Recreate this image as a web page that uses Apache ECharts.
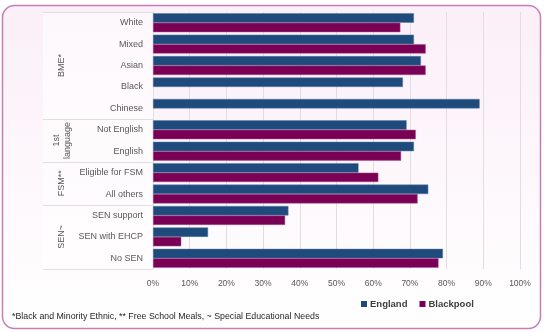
<!DOCTYPE html>
<html>
<head>
<meta charset="utf-8">
<script src="https://cdn.jsdelivr.net/npm/echarts@6/dist/echarts.min.js"></script>
<style>
  html, body { margin: 0; padding: 0; background: #ffffff; }
  #chart { width: 544px; height: 332px; }
</style>
</head>
<body>
<div id="chart"></div>
<script>
// Pupil groups (top to bottom)
var categories = ['White', 'Mixed', 'Asian', 'Black', 'Chinese',
  'Not English', 'English',
  'Eligible for FSM', 'All others',
  'SEN support', 'SEN with EHCP', 'No SEN'];

// Group headings and how many rows each spans
var groupNames = ['BME*', '1st\nlanguage', 'FSM**', 'SEN~'];
var groupSizes = [5, 2, 2, 3];

// Percentages
var englandValues   = [71.1, 71.1, 73.0, 68.1, 89.0, 69.1, 71.1, 56.0, 75.0, 36.9, 15.0, 79.0];
var blackpoolValues = [67.4, 74.3, 74.3, null, null, 71.6, 67.6, 61.4, 72.1, 36.0, 7.7, 77.8];

var xTicks = { min: 0, max: 100, interval: 10 };
var footnote = '*Black and Minority Ethnic, ** Free School Meals, ~ Special Educational Needs';

var FONT = '"Liberation Sans", Arial, sans-serif';
var chart = echarts.init(document.getElementById('chart'), null, { renderer: 'canvas' });

var baseGraphics = [
  {
    type: 'rect', z: -10, silent: true,
    shape: { x: 2.5, y: 5.5, width: 538, height: 323, r: 12 },
    style: {
      fill: new echarts.graphic.LinearGradient(0, 0, 0, 1, [
        { offset: 0, color: '#fbeff8' },
        { offset: 1, color: '#ffffff' }
      ]),
      stroke: '#c57dba', lineWidth: 1.5
    }
  },
  {
    type: 'text', left: 12, top: 312, silent: true,
    style: { text: footnote, fill: '#262626', font: '8.8px ' + FONT }
  }
];

chart.setOption({
  animation: false,
  backgroundColor: '#ffffff',
  textStyle: { fontFamily: FONT },
  grid: { left: 153, right: 24, top: 12, bottom: 63, containLabel: false },
  legend: {
    data: ['England', 'Blackpool'],
    left: 356, top: 294,
    icon: 'rect', itemWidth: 6, itemHeight: 6, itemGap: 12,
    itemStyle: { borderWidth: 0 },
    textStyle: { color: '#404040', fontWeight: 'bold', fontSize: 9.5, fontFamily: FONT, padding: [0, 0, 0, -2] }
  },
  xAxis: {
    type: 'value', min: xTicks.min, max: xTicks.max, interval: xTicks.interval,
    axisLine: { show: false }, axisTick: { show: false },
    splitLine: { show: true, lineStyle: { color: '#e3dde1', width: 1 } },
    axisLabel: { formatter: '{value}%', color: '#595959', fontSize: 8.5, margin: 10, fontFamily: FONT }
  },
  yAxis: {
    type: 'category', data: categories, inverse: true,
    axisLine: { show: true, lineStyle: { color: '#e3dde1' } },
    axisTick: { show: false },
    axisLabel: { color: '#595959', fontSize: 9, margin: 10, fontFamily: FONT }
  },
  series: [
    {
      name: 'England', type: 'bar', data: englandValues,
      barGap: '0%', barCategoryGap: '12%',
      itemStyle: { color: '#1f4a7c', borderColor: '#5a7aa3', borderWidth: 0.5 }
    },
    {
      name: 'Blackpool', type: 'bar', data: blackpoolValues,
      itemStyle: { color: '#7a0056', borderColor: '#a8558e', borderWidth: 0.5 }
    }
  ],
  graphic: baseGraphics
});

// Multi-level category labels: separators and rotated group headings
(function () {
  var c0 = chart.convertToPixel({ yAxisIndex: 0 }, categories[0]);
  var c1 = chart.convertToPixel({ yAxisIndex: 0 }, categories[1]);
  var band = c1 - c0;
  var top = c0 - band / 2;
  var axisX = chart.convertToPixel({ xAxisIndex: 0 }, xTicks.min);
  var lineLeft = 43;
  var els = baseGraphics.slice();
  els.push({
    type: 'rect', z: -5, silent: true,
    shape: { x: lineLeft, y: top, width: axisX - lineLeft, height: band * categories.length },
    style: { fill: 'rgba(255,255,255,0.55)' }
  });
  var start = 0;
  var bounds = [top];
  for (var g = 0; g < groupSizes.length; g++) {
    var y0 = top + start * band;
    var y1 = top + (start + groupSizes[g]) * band;
    bounds.push(y1);
    els.push({
      type: 'text', silent: true, rotation: Math.PI / 2,
      x: 62, y: (y0 + y1) / 2,
      style: {
        text: groupNames[g], fill: '#595959', font: '9px ' + FONT,
        align: 'center', verticalAlign: 'middle', lineHeight: 11
      }
    });
    start += groupSizes[g];
  }
  bounds.forEach(function (y) {
    var yy = Math.round(y) + 0.5;
    els.push({
      type: 'line', silent: true,
      shape: { x1: lineLeft, y1: yy, x2: axisX, y2: yy },
      style: { stroke: '#e3dde1', lineWidth: 1 }
    });
  });
  chart.setOption({ graphic: els }, { replaceMerge: ['graphic'] });
})();
</script>
</body>
</html>
